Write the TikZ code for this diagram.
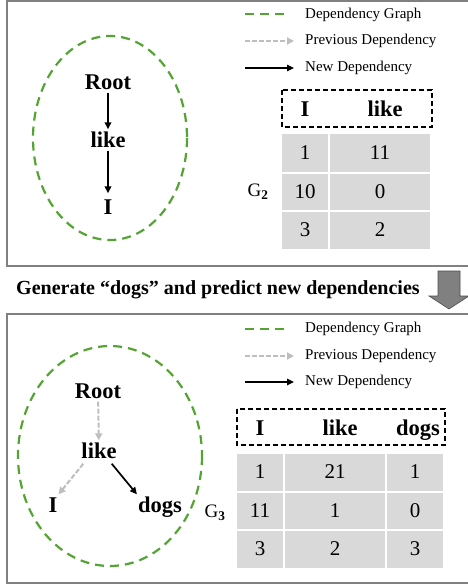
\documentclass[tikz,border=0pt]{standalone}
\usepackage{fontspec}
\setmainfont{Liberation Serif}
\usepackage{tikz}
\usetikzlibrary{arrows.meta}
\definecolor{depgreen}{RGB}{84,164,52}
\definecolor{panelgray}{RGB}{128,128,128}
\definecolor{prevgray}{RGB}{190,190,190}
\definecolor{cellgray}{RGB}{217,217,217}
\newcommand{\gridcell}[3]{\node[cellbox, minimum width=#3pt] at (#1) {#2}}

\tikzset{
  panel/.style={draw=panelgray, line width=2.5pt},
  depgraph/.style={draw=depgreen, line width=2.2pt, dash pattern=on 9pt off 6pt},
  prevdep/.style={draw=prevgray, line width=2pt, dash pattern=on 5pt off 2pt, -{Triangle[length=7pt,width=7pt]}},
  newdep/.style={draw=black, line width=1.7pt, -{Triangle[length=7pt,width=6.5pt]}},
  word/.style={font=\fontsize{22.5}{22}\selectfont\bfseries, inner sep=1pt, text height=17pt, text depth=2pt},
  legtext/.style={font=\fontsize{15}{15}\selectfont, anchor=west, inner sep=0pt},
  hdrbox/.style={draw, line width=1.3pt, dash pattern=on 5pt off 3pt},
  cellbox/.style={fill=cellgray, draw=white, line width=1.5pt, minimum height=38.5pt,
    font=\fontsize{21}{21}\selectfont, inner sep=0pt},
  glabel/.style={font=\fontsize{19}{19}\selectfont}
}

\begin{document}
\begin{tikzpicture}[x=1pt,y=-1pt]
  \useasboundingbox (0,0) rectangle (467,588);

  % top panel
  \draw[panel] (7,1) rectangle (472,266);

  \draw[depgraph] (110,138) ellipse (77 and 102);
  \node[word] (root1) at (108,82) {Root};
  \node[word] (like1) at (108,140) {like};
  \node[word] (i1) at (108,207) {I};
  \draw[newdep] (root1) -- (like1);
  \draw[newdep, shorten >=3pt] (like1) -- (i1);

  \coordinate (la1) at (245,14);
  \coordinate (lb1) at (289,14);
  \coordinate (pa1) at (245,41);
  \coordinate (pb1) at (294,41);
  \coordinate (na1) at (245,68);
  \coordinate (nb1) at (294,68);
  \draw[depgraph] (la1) -- (lb1);
  \draw[prevdep] (pa1) -- (pb1);
  \draw[newdep, line width=1.4pt] (na1) -- (nb1);
  \node[legtext] (lt1) at (305,15) {Dependency Graph};
  \node[legtext] (pt1) at (305,41) {Previous Dependency};
  \node[legtext] (nt1) at (305,68) {New Dependency};

  \draw[hdrbox] (282,90) rectangle (432,127);
  \node[word] (hi1) at (305,109) {I};
  \node[word] (hl1) at (385,109) {like};

  \gridcell{305,153}{1}{48};
  \gridcell{380,153}{11}{102};
  \gridcell{305,192}{10}{48};
  \gridcell{380,192}{0}{102};
  \gridcell{305,230}{3}{48};
  \gridcell{380,230}{2}{102};
  \node[glabel] (g2) at (258,192) {G$_{\mathbf{2}}$};

  % step between panels
  \node[font=\fontsize{20}{20}\selectfont\bfseries, anchor=west, inner sep=0pt] (step)
    at (16,290) {Generate “dogs\symbol{34} and predict new dependencies};
  \draw[fill=panelgray, draw=black!70, line width=0.6pt]
    (438,271) -- (460,271) -- (460,296) -- (469,296) -- (449,309)
    -- (429,296) -- (438,296) -- cycle;

  % bottom panel
  \draw[panel] (7,314) rectangle (472,583);

  \draw[depgraph] (110,456) ellipse (92 and 110);
  \node[word] (root2) at (98,391) {Root};
  \node[word] (like2) at (99,451) {like};
  \node[word] (i2) at (53,505) {I};
  \node[word] (dogs2) at (160,505) {dogs};
  \draw[prevdep] (root2) -- (like2);
  \draw[prevdep] (like2.south west) ++(3,2) coordinate (lsw) -- (i2.north east);
  \draw[newdep] (like2.south east) ++(-6,2) coordinate (lse) -- (dogs2.north west);

  \coordinate (la2) at (245,329);
  \coordinate (lb2) at (289,329);
  \coordinate (pa2) at (245,356);
  \coordinate (pb2) at (294,356);
  \coordinate (na2) at (245,382);
  \coordinate (nb2) at (294,382);
  \draw[depgraph] (la2) -- (lb2);
  \draw[prevdep] (pa2) -- (pb2);
  \draw[newdep, line width=1.4pt] (na2) -- (nb2);
  \node[legtext] (lt2) at (305,329) {Dependency Graph};
  \node[legtext] (pt2) at (305,356) {Previous Dependency};
  \node[legtext] (nt2) at (305,382) {New Dependency};

  \draw[hdrbox] (237,409) rectangle (445,445);
  \node[word] (hi2) at (260,428) {I};
  \node[word] (hl2) at (340,428) {like};
  \node[word] (hd2) at (418,428) {dogs};

  \gridcell{260,472}{1}{48};
  \gridcell{335,472}{21}{102};
  \gridcell{415,472}{1}{58};
  \gridcell{260,511}{11}{48};
  \gridcell{335,511}{1}{102};
  \gridcell{415,511}{0}{58};
  \gridcell{260,549}{3}{48};
  \gridcell{335,549}{2}{102};
  \gridcell{415,549}{3}{58};
  \node[glabel] (g3) at (215,513) {G$_{\mathbf{3}}$};
\end{tikzpicture}
\end{document}
